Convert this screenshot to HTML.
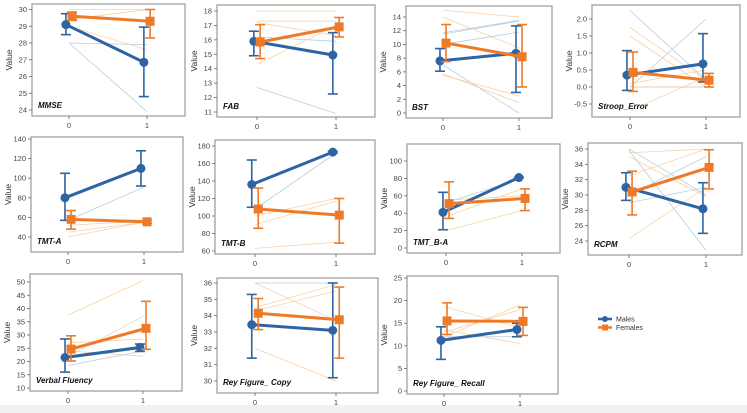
<!DOCTYPE html>
<html><head><meta charset="utf-8"><style>
html,body{margin:0;padding:0;background:#fff;}
svg{display:block;font-family:"Liberation Sans",sans-serif;}
</style></head><body>
<svg id="chart" width="747" height="413" viewBox="0 0 747 413" xmlns="http://www.w3.org/2000/svg">
<rect x="0" y="405" width="747" height="8" fill="#f1f1f1"/>
</svg>
<script>
// Panel titles
const titles = ["MMSE","FAB","BST","Stroop_Error","TMT-A","TMT-B","TMT_B-A","RCPM","Verbal Fluency","Rey Figure_ Copy","Rey Figure_ Recall"];
// y tick labels per panel
const ticks = [
 [24,25,26,27,28,29,30],
 [11,12,13,14,15,16,17,18],
 [0,2,4,6,8,10,12,14],
 [-0.5,0.0,0.5,1.0,1.5,2.0],
 [40,60,80,100,120,140],
 [60,80,100,120,140,160,180],
 [0,20,40,60,80,100],
 [24,26,28,30,32,34,36],
 [10,15,20,25,30,35,40,45,50],
 [30,31,32,33,34,35,36],
 [0,5,10,15,20,25]
];
// Males: mean at time 0, time 1
const malesMean = [[29.1,26.85],[15.9,14.95],[7.6,8.7],[0.35,0.68],[80,110],[136,173],[41,81],[31,28.2],[21.5,25.3],[33.45,33.1],[11.2,13.6]];
const malesLo = [[28.5,24.8],[14.9,12.25],[6.1,3.0],[-0.1,0.15],[57,92],[110,172],[21,81],[29.3,25.0],[16,23.8],[31.4,30.2],[7.0,12.0]];
const malesHi = [[29.75,28.95],[16.6,16.5],[9.4,12.7],[1.07,1.57],[105,128],[164,174],[64,81],[32.9,31.6],[28.5,26.6],[35.3,36.0],[14.2,15.0]];
// Females
const femMean = [[29.6,29.3],[15.85,16.9],[10.2,8.2],[0.43,0.2],[58,55.5],[108,101],[51,57],[30.4,33.6],[24.7,32.5],[34.15,33.75],[15.5,15.4]];
const femLo = [[29.35,28.3],[14.7,16.2],[7.5,3.8],[-0.13,0.0],[48,54],[86,69],[34,43],[27.4,30.8],[20.2,24.6],[33.15,31.4],[12.5,12.3]];
const femHi = [[29.85,30.0],[17.05,17.55],[12.9,12.9],[1.03,0.4],[67,57],[132,120],[76,68],[33.1,35.9],[29.7,42.7],[35.05,35.75],[19.5,18.5]];
// Individual subject trajectories (faint)
const malesInd = [
 [[28,27.9],[28,23.9]],
 [[16.2,15.9],[12.7,10.9]],
 [[11.5,13.4],[10,11.8],[7,0],[11.7,13.5]],
 [[2.25,0.2],[0,2.0],[0,0]],
 [[57,91]],
 [[108,172]],
 [[52,80]],
 [[36,30],[35.8,22.8],[30,35],[29,31]],
 [[18.5,24]],
 [[36,36]],
 [[12,12]]
];
const femInd = [
 [[30,30],[29.4,30],[29,27.6]],
 [[18,18],[17.3,17.3],[17.2,16.3],[14.3,17]],
 [[15,14],[14,9.5],[5.7,1.5],[5.5,2.5]],
 [[1.75,0.2],[1.5,0],[0.1,0.5],[-0.7,0.3],[0,0]],
 [[40,55],[45,55],[52,56]],
 [[100,120],[90,117],[63,70]],
 [[20,43],[36,68],[55,60]],
 [[35.5,36],[32.5,36],[24.3,31],[35,29.8]],
 [[37.5,50.5],[22,37],[27,28.5],[24,22]],
 [[34.5,35.9],[36,33.7],[32,30],[34.3,35.5]],
 [[18.7,14],[12,19],[13,18],[13.5,10.5]]
];
// layout: frame [x0,y0,x1,y1], y-anchor pairs [v1,py1,v2,py2], x anchors px for 0 and 1
const frames = [
 [32,4,185,116],[217,5,375,117],[406,6,552,118],[592,5,740,117],
 [31,137,183,252],[215,140,375,254],[407,144,560,253],[588,143,742,255],
 [30,274,182,391],[217,278,378,393],[407,276,558,394]
];
const yAnch = [
 [30,9.5,24,110],[18,11,11,112],[14,17,0,113],[2.0,19,-0.5,104],
 [140,139,40,237],[180,146,60,251],[100,161,0,248],[36,149,24,241],
 [50,282,10,388],[36,283,30,381],[25,278,0,391]
];
const xAnch = [[69,147],[257,336],[443,519],[630,706],[68,144],[255,336],[446,522],[629,706],[68,143],[255,336],[444,520]];

const NS="http://www.w3.org/2000/svg";
const svg=document.getElementById('chart');
const BLUE="#2e64a3", ORANGE="#ee7a27";
function mk(tag,attrs,parent){const e=document.createElementNS(NS,tag);for(const k in attrs)e.setAttribute(k,attrs[k]);(parent||svg).appendChild(e);return e;}

for(let i=0;i<titles.length;i++){
  const f=frames[i], a=yAnch[i], xa=xAnch[i];
  const ys=v=>a[1]+(v-a[0])*(a[3]-a[1])/(a[2]-a[0]);
  const xs=t=>xa[0]+t*(xa[1]-xa[0]);
  const g=mk('g',{});
  
  
  const fr=mk('rect',{x:f[0],y:f[1],width:f[2]-f[0],height:f[3]-f[1],fill:'#fff',stroke:'#a0a0a0','stroke-width':1.3},g);
  
  
  // y ticks
  ticks[i].forEach(v=>{
    const y=ys(v);
    mk('line',{x1:f[0]-3,x2:f[0],y1:y,y2:y,stroke:'#666','stroke-width':0.8},g);
    const t=mk('text',{x:f[0]-5,y:y+2.5,'font-size':7.5,'text-anchor':'end',fill:'#444'},g);
    t.textContent=(i===3)?v.toFixed(1):v;
    
    
  });
  // x ticks
  [0,1].forEach(tv=>{
    const x=xs(tv);
    mk('line',{x1:x,x2:x,y1:f[3],y2:f[3]+3,stroke:'#666','stroke-width':0.8},g);
    const t=mk('text',{x:x,y:f[3]+12,'font-size':7.5,'text-anchor':'middle',fill:'#444'},g);
    t.textContent=tv;
    
    
  });
  // y label
  const yl=mk('text',{x:0,y:0,'font-size':8.5,'text-anchor':'middle',fill:'#333',transform:`translate(${f[0]-20},${(f[1]+f[3])/2}) rotate(-90)`},g);
  yl.textContent='Value';
  
  
  // faint individual lines
  malesInd[i].forEach(p=>{
    const l=mk('line',{x1:xs(0),y1:ys(p[0]),x2:xs(1),y2:ys(p[1]),stroke:'#9bbbd6','stroke-width':0.8,opacity:0.7},g);
    
    
  });
  femInd[i].forEach(p=>{
    const l=mk('line',{x1:xs(0),y1:ys(p[0]),x2:xs(1),y2:ys(p[1]),stroke:'#f6c78f','stroke-width':0.8,opacity:0.8},g);
    
    
  });
  // series
  const series=[[malesMean,malesLo,malesHi,BLUE,-0.04,'males'],[femMean,femLo,femHi,ORANGE,0.04,'females']];
  series.forEach(s=>{
    const m=s[0][i],lo=s[1][i],hi=s[2][i],c=s[3],off=s[4];
    const X0=xs(0+off),X1=xs(1+off);
    const ln=mk('line',{x1:X0,y1:ys(m[0]),x2:X1,y2:ys(m[1]),stroke:c,'stroke-width':3},g);
    
    
    [0,1].forEach(k=>{
      const X=k?X1:X0;
      const eg=mk('g',{stroke:c,'stroke-width':1.6},g);
      
      
      mk('line',{x1:X,x2:X,y1:ys(lo[k]),y2:ys(hi[k])},eg);
      mk('line',{x1:X-5,x2:X+5,y1:ys(lo[k]),y2:ys(lo[k])},eg);
      mk('line',{x1:X-5,x2:X+5,y1:ys(hi[k]),y2:ys(hi[k])},eg);
      let mkr;
      if(s[5]==='males') mkr=mk('circle',{cx:X,cy:ys(m[k]),r:4.5,fill:c},g);
      else mkr=mk('rect',{x:X-4.5,y:ys(m[k])-4.5,width:9,height:9,fill:c},g);
      
      
    });
  });
  const tt=mk('text',{x:f[0]+6,y:f[3]-8,'font-size':8,'font-weight':'bold','font-style':'italic',fill:'#111'},g);
  tt.textContent=titles[i];
  
  
}
// legend
const lg=mk('g',{});


[['Males',BLUE,319,'c'],['Females',ORANGE,327.5,'s']].forEach(e=>{
  const g=mk('g',{},lg);
  
  
  mk('line',{x1:598,x2:612,y1:e[2],y2:e[2],stroke:e[1],'stroke-width':2.5},g);
  if(e[3]==='c') mk('circle',{cx:605,cy:e[2],r:3,fill:e[1]},g);
  else mk('rect',{x:602,y:e[2]-3,width:6,height:6,fill:e[1]},g);
  const t=mk('text',{x:616,y:e[2]+2.5,'font-size':7,fill:'#333'},g);
  t.textContent=e[0];
});
</script>
</body></html>
